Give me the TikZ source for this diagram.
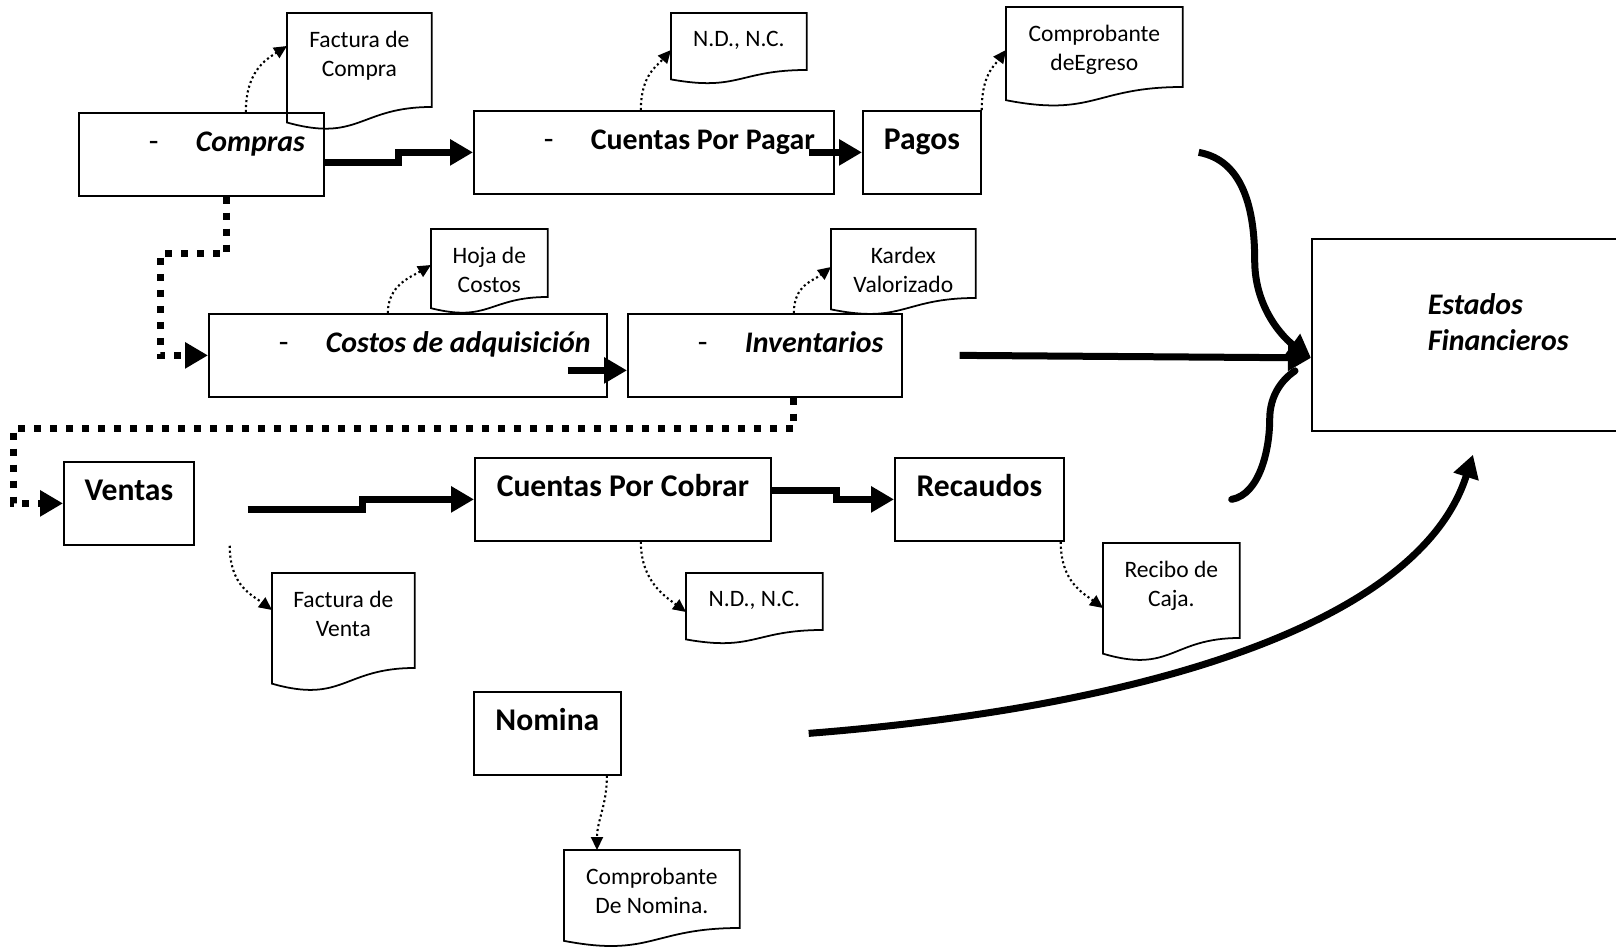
\documentclass[tikz,border=0pt]{standalone}
\usepackage{fontspec}
\setmainfont{Carlito}
\usetikzlibrary{arrows.meta,calc}

\newcommand{\boxfont}{\fontsize{18}{21.9}\selectfont\bfseries}
\newcommand{\docfont}{\fontsize{13.4}{16.4}\selectfont}
% some labels are set a little smaller
\newcommand{\smaller}[1]{{\fontsize{17}{20.7}\selectfont #1}}
\newcommand{\slant}[1]{\smaller{\itshape #1}}
% dash and text of a list entry inside a box
\newcommand{\guion}[1]{\hspace*{1.4cm}\makebox[0.94cm][l]{\textnormal{-}}#1}
% document symbol: name, position, width, height of the straight side, text
\newcommand{\docnode}[5]{%
  \node[doc, minimum width=#3] (#1) at (#2) {#5};
  \draw[docline] (#1.north west) -- (#1.north east) -- ([yshift=-#4]#1.north east)
    .. controls ([yshift=-#4]#1.north) and ([yshift=-1.38*#4]#1.north)
    .. ([yshift=-1.165*#4]#1.north west) -- cycle;}

\begin{document}
\begin{tikzpicture}[x=0.02cm, y=-0.02cm,
  box/.style={draw, line width=1pt, anchor=north west, inner sep=0pt,
    minimum height=1.66cm, text height=0.78cm, text depth=0.88cm, font=\boxfont},
  item/.style={box, text width=#1, align=flush left},
  doc/.style={anchor=north west, align=center, font=\docfont, inner xsep=2pt, inner ysep=0.36cm},
  docline/.style={line width=1pt},
  flow/.style={line width=0.14cm, -{Triangle[length=0.46cm,width=0.5cm]}},
  jump/.style={flow, dash pattern=on 0.14cm off 0.18cm},
  note/.style={line width=1.2pt, dash pattern=on 1.2pt off 1.6pt, -{Triangle[length=0.26cm,width=0.24cm]}},
  curveline/.style={line width=0.14cm, line cap=round}]
\useasboundingbox (0,0) rectangle (1616,951);

% processes
\node[item=4.9cm] (compras) at (78,112) {\guion{\slant{Compras}}};
\node[item=7.2cm] (cxp) at (473,110) {\guion{\smaller{Cuentas Por Pagar}}};
\node[box, minimum width=2.36cm] (pagos) at (862,110) {Pagos};
\node[item=7.96cm] (costos) at (208,313) {\guion{\slant{Costos de adquisición}}};
\node[item=5.48cm] (inv) at (627,313) {\guion{\slant{Inventarios}}};
\node[box, minimum width=2.6cm] (ventas) at (63,461) {Ventas};
\node[box, minimum width=5.92cm] (cxc) at (474,457) {Cuentas Por Cobrar};
\node[box, minimum width=3.38cm] (rec) at (894,457) {Recaudos};
\node[box, minimum width=2.94cm] (nomina) at (473,691) {Nomina};
\node[box, minimum height=3.84cm, text width=7cm, align=flush left, text height=1.51cm, text depth=2.33cm]
  (ef) at (1311,238) {\hspace*{2.32cm}\slant{\vtop{\hbox{Estados}\hbox{Financieros}}}};

% documents
\docnode{fc}{287,13}{2.88cm}{1.88cm}{Factura de\\Compra}
\docnode{ndp}{671,13}{2.7cm}{1.14cm}{N.D., N.C.}
\docnode{ce}{1006,7}{3.52cm}{1.6cm}{Comprobante\\deEgreso}
\docnode{hc}{431,229}{2.32cm}{1.36cm}{Hoja de\\Costos}
\docnode{kv}{831,229}{2.88cm}{1.38cm}{Kardex\\Valorizado}
\docnode{fv}{272,573}{2.84cm}{1.9cm}{Factura de\\Venta}
\docnode{ndc}{686,573}{2.72cm}{1.14cm}{N.D., N.C.}
\docnode{rc}{1103,543}{2.72cm}{1.9cm}{Recibo de\\Caja.}
\docnode{cn}{564,850}{3.5cm}{1.56cm}{Comprobante\\De Nomina.}

% flows between processes
\draw[flow] ([yshift=-0.17cm]compras.east) -- ++(74,0) |- (cxp.west);
\draw[flow] ([xshift=-0.52cm]cxp.east) -- (pagos.west);
\draw[jump] ([xshift=0.51cm]compras.south) -- ++(0,57) -| ([xshift=-0.96cm]costos.west) -- (costos.west);
\draw[flow] ([xshift=-0.8cm,yshift=-0.3cm]costos.east) -- ([yshift=-0.3cm]inv.west);
\draw[jump] ([xshift=0.58cm]inv.south) -- ++(0,31) -| ([xshift=-1cm]ventas.west) -- (ventas.west);
\draw[flow] ([xshift=1.06cm,yshift=-0.12cm]ventas.east) -- ++(115,0) |- (cxc.west);
\draw[flow] ([yshift=0.18cm]cxc.east) -- ++(65,0) |- (rec.west);

% into the statements
\draw[flow] ([xshift=1.14cm]inv.east) -- ([yshift=-0.46cm]ef.west);
\draw[flow] ([xshift=4.34cm]pagos.east) .. controls +(45,8) and +(0,-50) .. ++(56,108)
  .. controls +(0,50) and +(-25,-18) .. ([yshift=-0.46cm]ef.west);
\draw[curveline] ([xshift=3.34cm]rec.east) .. controls +(28,-5) and +(0,30) .. ++(38,-80)
  .. controls +(0,-25) and +(-12,8) .. ([xshift=-0.32cm,yshift=-0.72cm]ef.west);
\draw[flow] ([xshift=3.74cm]nomina.east) .. controls +(343,-27) and +(-53,167)
  .. ([xshift=3.24cm,yshift=-0.46cm]ef.south west);

% supporting documents
\draw[note] ([xshift=0.89cm]compras.north) .. controls +(0,-40) and +(-22,14) .. ([yshift=-0.66cm]fc.north west);
\draw[note] ([xshift=-0.26cm]cxp.north) .. controls +(0,-35) and +(-14,16) .. ([yshift=-0.74cm]ndp.north west);
\draw[note] (pagos.north east) .. controls +(0,-35) and +(-12,16) .. ([yshift=-0.86cm]ce.north west);
\draw[note] ([xshift=-0.4cm]costos.north) .. controls +(0,-28) and +(-20,12) .. ([yshift=-0.72cm]hc.north west);
\draw[note] ([xshift=0.58cm]inv.north) .. controls +(0,-28) and +(-18,14) .. ([yshift=-0.76cm]kv.north west);
\draw[note] ([xshift=0.7cm]ventas.south east) .. controls +(0,40) and +(-20,-15) .. ([yshift=-0.74cm]fv.north west);
\draw[note] ([xshift=0.36cm]cxc.south) .. controls +(0,40) and +(-20,-15) .. ([yshift=-0.78cm]ndc.north west);
\draw[note] ([xshift=-0.08cm]rec.south east) .. controls +(0,40) and +(-20,-15) .. ([yshift=-1.3cm]rc.north west);
\draw[note] ([xshift=1.19cm]nomina.south) .. controls +(0,30) and +(0,-30) .. ([xshift=0.66cm]cn.north west);
\end{tikzpicture}
\end{document}
